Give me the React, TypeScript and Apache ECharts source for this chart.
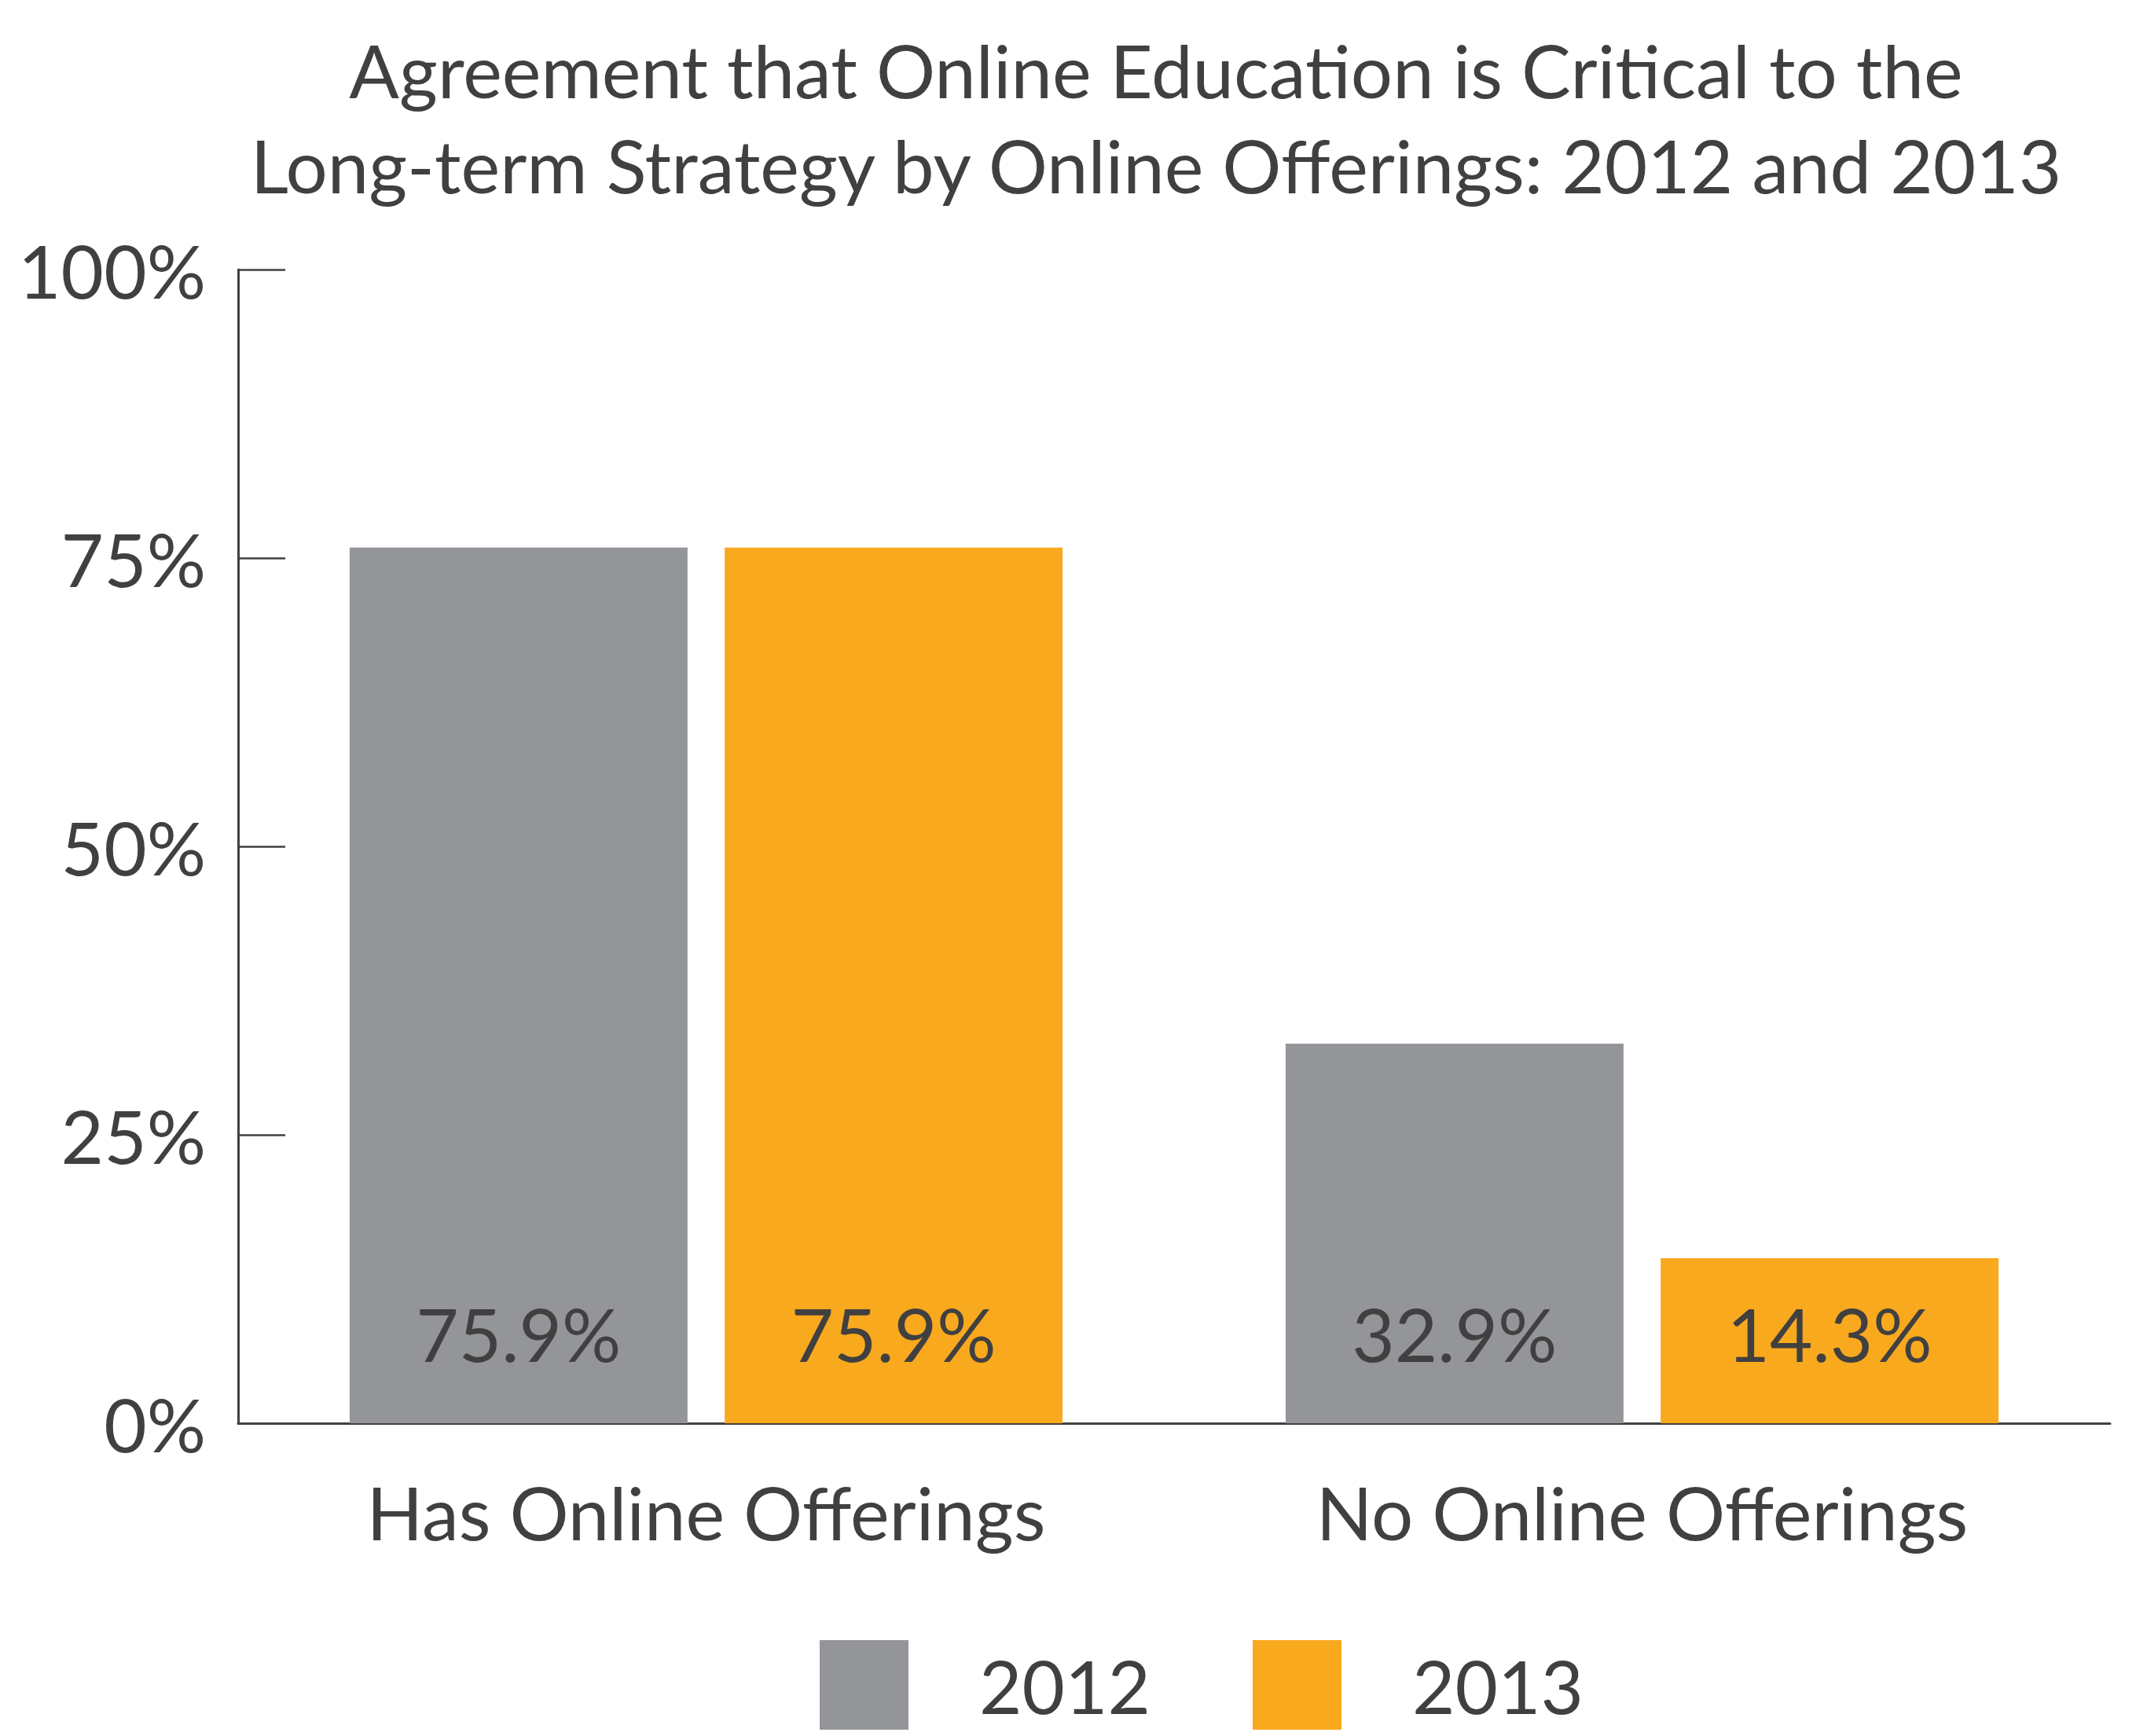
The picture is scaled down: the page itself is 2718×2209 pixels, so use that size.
import React, { useEffect, useRef } from "react";
import * as echarts from "echarts";

const categories = ["Has Online Offerings", "No Online Offerings"];
const seriesNames = ["2012", "2013"];
const values2012 = [75.9, 32.9];
const values2013 = [75.9, 14.3];
const yTicks = [0, 25, 50, 75, 100];
const titleLines = [
  "Agreement that Online Education is Critical to the",
  "Long-term Strategy by Online Offerings: 2012 and 2013",
];

const FONT = "Lato";
const TEXT = "#404040";
const GRAY = "#949599";
const ORANGE = "#F9A91E";
const FS = 94;

export default function App() {
  const ref = useRef<HTMLDivElement>(null);
  useEffect(() => {
    document.body.style.margin = "0";
    const chart = echarts.init(ref.current!, null, { renderer: "svg" });
    const labelCfg = {
      show: true,
      position: "insideBottom",
      distance: 65,
      formatter: (p: any) => p.value.toFixed(1) + "%",
      color: TEXT,
      fontFamily: FONT,
      fontSize: FS,
      lineHeight: 100,
    };
    chart.setOption({
      animation: false,
      backgroundColor: "#ffffff",
      textStyle: { fontFamily: FONT, color: TEXT },
      grid: { left: 303, right: 33, top: 343, bottom: 398, containLabel: false },
      graphic: titleLines.map((t, i) => ({
        type: "text",
        x: 1471,
        y: 88 + i * 121,
        style: {
          text: t,
          fill: TEXT,
          font: `${FS}px ${FONT}`,
          textAlign: "center",
          textVerticalAlign: "middle",
        },
      })),
      legend: seriesNames.map((n, i) => ({
        data: [n],
        left: i === 0 ? 1038 : 1589,
        top: 2082,
        icon: "rect",
        itemWidth: 113,
        itemHeight: 114,
        textStyle: {
          fontFamily: FONT,
          fontSize: FS,
          color: TEXT,
          padding: [0, 0, 0, 85],
        },
      })),
      xAxis: {
        type: "category",
        data: categories,
        axisLine: { show: true, lineStyle: { color: TEXT, width: 3 } },
        axisTick: { show: false },
        axisLabel: {
          color: TEXT,
          fontFamily: FONT,
          fontSize: FS,
          margin: 62,
          lineHeight: 100,
        },
      },
      yAxis: {
        type: "value",
        min: yTicks[0],
        max: yTicks[yTicks.length - 1],
        interval: 25,
        axisLine: { show: true, lineStyle: { color: TEXT, width: 3 } },
        axisTick: {
          show: true,
          inside: true,
          length: 60,
          lineStyle: { color: TEXT, width: 2.5 },
        },
        splitLine: { show: false },
        axisLabel: {
          color: TEXT,
          fontFamily: FONT,
          fontSize: FS,
          margin: 41,
          formatter: "{value}%",
        },
      },
      series: [
        {
          name: seriesNames[0],
          type: "bar",
          data: values2012,
          barWidth: "36.1%",
          barGap: "11%",
          itemStyle: { color: GRAY },
          label: labelCfg,
        },
        {
          name: seriesNames[1],
          type: "bar",
          data: values2013,
          barWidth: "36.1%",
          barGap: "11%",
          itemStyle: { color: ORANGE },
          label: labelCfg,
        },
      ],
    });
    return () => chart.dispose();
  }, []);
  return (
    <div
      ref={ref}
      style={{ position: "fixed", left: 0, top: 0, width: 2718, height: 2209 }}
    />
  );
}
